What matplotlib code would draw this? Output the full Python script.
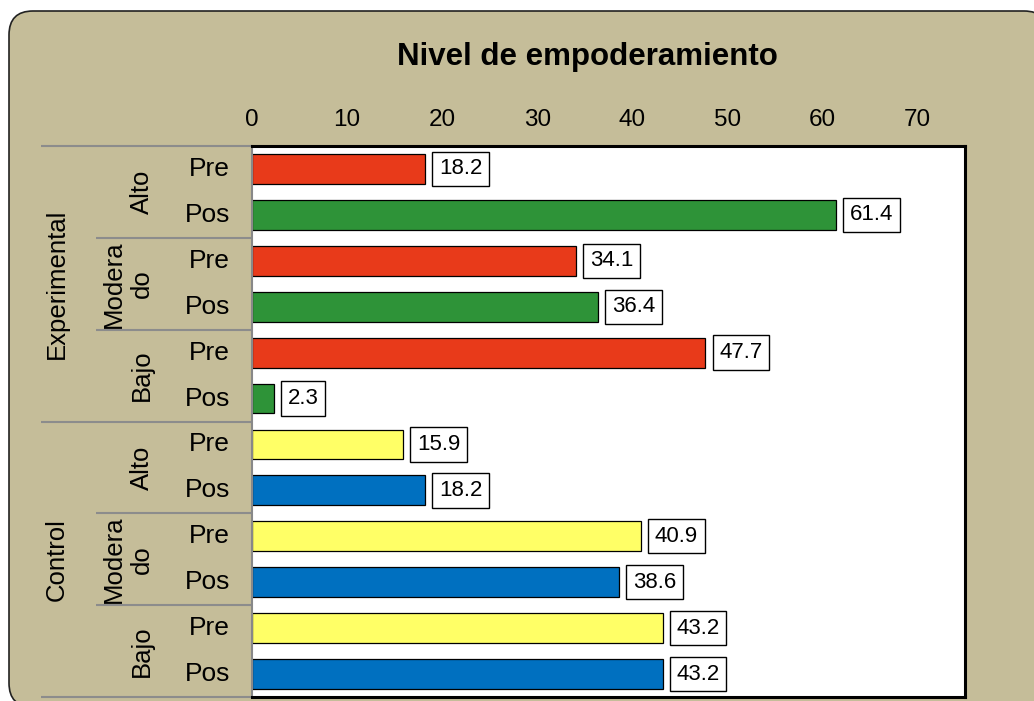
import numpy as np
import matplotlib.pyplot as plt
import matplotlib.transforms as mtransforms
from matplotlib.patches import FancyBboxPatch

plt.rcParams["font.family"] = ["Liberation Sans", "DejaVu Sans"]

# data, top to bottom
groups = ["Experimental", "Control"]
levels = ["Alto", "Modera\ndo", "Bajo"]
phases = ["Pre", "Pos"]
experimental_pre = [18.2, 34.1, 47.7]
experimental_pos = [61.4, 36.4, 2.3]
control_pre = [15.9, 40.9, 43.2]
control_pos = [18.2, 38.6, 43.2]
x_ticks = [0, 10, 20, 30, 40, 50, 60, 70]
title = "Nivel de empoderamiento"

RED = "#E83A1A"
GREEN = "#2E9338"
YELLOW = "#FFFF66"
BLUE = "#0070C0"
TAN = "#C5BD99"

values = []
colors = []
for pre, pos, c_pre, c_pos in [(experimental_pre, experimental_pos, RED, GREEN),
                               (control_pre, control_pos, YELLOW, BLUE)]:
    for a, b in zip(pre, pos):
        values += [a, b]
        colors += [c_pre, c_pos]
rows = np.arange(len(values))

W, H = 1034, 701
fig = plt.figure(figsize=(W / 100, H / 100), dpi=100, facecolor="white")

# rounded tan background panel, drawn in pixel units
bgax = fig.add_axes([0, 0, 1, 1], zorder=-1)
bgax.set_xlim(0, W)
bgax.set_ylim(H, 0)
bgax.axis("off")
bgax.add_patch(FancyBboxPatch((9, 11), 1039, 696,
                              boxstyle="round,pad=0,rounding_size=24",
                              facecolor=TAN, edgecolor="#222222", linewidth=1.2))

left, right, top, bottom = 252, 965, 146, 697
ax = fig.add_axes([left / W, 1 - bottom / H, (right - left) / W, (bottom - top) / H])
ax.set_facecolor("white")

ax.barh(rows, values, height=0.65, color=colors, edgecolor="black", linewidth=0.9)
for r, v in zip(rows, values):
    ax.annotate(f"{v:.1f}", (v, r), xytext=(10, 0), textcoords="offset points",
                ha="left", va="center", fontsize=16,
                bbox=dict(boxstyle="square,pad=0.3", facecolor="white",
                          edgecolor="black", linewidth=1))

ax.set_xlim(0, 75)
ax.set_ylim(len(values) - 0.5, -0.5)
ax.set_xticks(x_ticks)
ax.xaxis.tick_top()
ax.tick_params(axis="x", length=0, pad=11, labelsize=17.5)
ax.set_yticks([])

for s in ["top", "right", "bottom"]:
    ax.spines[s].set_color("black")
    ax.spines[s].set_linewidth(2.2)
ax.spines["left"].set_color("#888888")
ax.spines["left"].set_linewidth(1.5)

# category labels in the left margin
trans = mtransforms.blended_transform_factory(ax.transAxes, ax.transData)


def ax_x(px):
    return (px - left) / (right - left)


for r in rows:
    ax.text(ax_x(230), r, phases[r % 2], transform=trans, ha="right", va="center",
            fontsize=19)

for i, g in enumerate(groups):
    ax.text(ax_x(69), i * 6 + 2.5, g, transform=trans, rotation=90,
            ha="right", va="center", fontsize=18.5)
    for j, lv in enumerate(levels):
        ax.text(ax_x(154), i * 6 + j * 2 + 0.5, lv, transform=trans, rotation=90,
                ha="right", va="center", fontsize=18.5, multialignment="center",
                linespacing=1.2)

for y in np.arange(-0.5, len(values), 2):
    x0 = 41 if (y + 0.5) % 6 == 0 else 96
    ax.plot([ax_x(x0), 0], [y, y], transform=trans, color="#8C8C8C", lw=1.5,
            clip_on=False, solid_capstyle="butt")

fig.text(587 / W, 1 - 57 / H, title, ha="center", va="center", fontsize=22.5,
         fontweight="bold")

fig.savefig("out.png", dpi=100, facecolor="white")
